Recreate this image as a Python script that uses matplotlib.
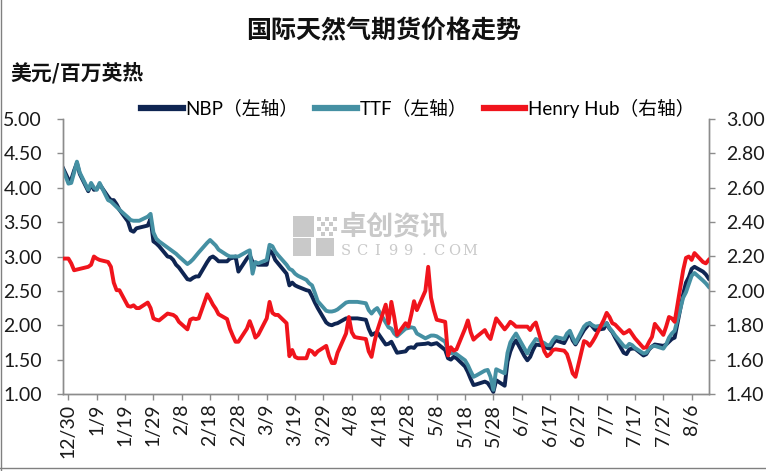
import matplotlib
matplotlib.use("Agg")
import matplotlib.pyplot as plt
from matplotlib.lines import Line2D
from matplotlib.patches import Rectangle
import pandas as pd

plt.rcParams['font.family'] = ['Lato', 'Noto Sans CJK SC', 'DejaVu Sans']

# ---------------- data ----------------
dates = pd.bdate_range("2019-12-27", "2020-08-12")

nbp = [4.38, 4.12, 4.12, 4.25, 4.36, 4.20,
       3.95, 4.05, 3.97, 3.98, 4.05,
       3.87, 3.82, 3.82, 3.76, 3.68,
       3.51, 3.38, 3.36, 3.41, 3.42,
       3.45, 3.55, 3.22, 3.19, 3.15,
       3.00, 2.99, 2.95, 2.88, 2.84,
       2.67, 2.66, 2.69, 2.71, 2.71,
       2.92, 2.98, 3.00, 2.97, 2.93,
       2.93, 2.97, 2.98, 3.00, 2.78,
       2.97, 3.02, 2.92, 2.90, 2.88,
       2.88, 3.09, 3.05, 2.95, 2.90,
       2.75, 2.58, 2.62, 2.58, 2.56,
       2.51, 2.50, 2.42, 2.33, 2.25,
       2.04, 2.01, 2.00, 2.02, 2.03,
       2.10, 2.10, 2.10, 2.10, 2.10,
       2.08, 1.95, 1.86, 1.88, 1.90,
       1.72, 1.73, 1.76, 1.68, 1.60,
       1.62, 1.67, 1.68, 1.67, 1.72,
       1.73, 1.74, 1.72, 1.73, 1.74,
       1.64, 1.52, 1.50, 1.54, 1.52,
       1.40, 1.32, 1.22, 1.13, 1.14,
       1.18, 1.16, 1.10, 1.03, 1.20,
       1.12, 1.47, 1.62, 1.72, 1.78,
       1.55, 1.49, 1.54, 1.64, 1.72,
       1.70, 1.67, 1.66, 1.73, 1.78,
       1.74, 1.82, 1.90, 1.78, 1.72,
       1.93, 1.98, 2.03, 1.98, 1.93,
       1.95, 2.03, 1.95, 1.90, 1.82,
       1.60, 1.58, 1.65, 1.66, 1.66,
       1.56, 1.58, 1.65, 1.69, 1.72,
       1.70, 1.72, 1.76, 1.80, 1.82,
       2.45, 2.62, 2.70, 2.82, 2.85,
       2.78, 2.74, 2.68]

ttf = [4.38, 4.06, 4.07, 4.22, 4.38, 4.22,
       3.97, 4.07, 4.00, 3.97, 4.07,
       3.82, 3.80, 3.76, 3.72, 3.68,
       3.57, 3.53, 3.52, 3.52, 3.52,
       3.58, 3.62, 3.35, 3.26, 3.22,
       3.13, 3.10, 3.07, 3.04, 3.00,
       2.89, 2.92, 2.96, 3.01, 3.06,
       3.20, 3.24, 3.20, 3.16, 3.10,
       3.02, 3.00, 3.00, 3.00, 3.00,
       3.07, 3.09, 2.75, 2.92, 2.90,
       2.95, 3.17, 3.15, 3.07, 3.02,
       2.88, 2.82, 2.80, 2.75, 2.72,
       2.66, 2.61, 2.58, 2.47, 2.35,
       2.21, 2.20, 2.20, 2.21, 2.23,
       2.33, 2.34, 2.34, 2.34, 2.34,
       2.32, 2.22, 2.17, 2.22, 2.25,
       2.04, 1.97, 1.95, 1.88, 1.84,
       1.95, 1.96, 1.97, 1.96, 1.88,
       1.81, 1.83, 1.85, 1.85, 1.84,
       1.76, 1.62, 1.59, 1.60, 1.58,
       1.49, 1.42, 1.33, 1.25, 1.27,
       1.34, 1.35, 1.25, 1.06, 1.36,
       1.30, 1.60, 1.75, 1.82, 1.88,
       1.66, 1.59, 1.68, 1.74, 1.80,
       1.74, 1.71, 1.71, 1.78, 1.83,
       1.80, 1.88, 1.92, 1.82, 1.74,
       1.98, 2.02, 2.03, 2.00, 1.98,
       2.00, 2.03, 1.96, 1.91, 1.85,
       1.70, 1.68, 1.73, 1.71, 1.67,
       1.59, 1.60, 1.66, 1.69, 1.70,
       1.66, 1.72, 1.82, 1.88, 1.92,
       2.40, 2.48, 2.60, 2.72, 2.76,
       2.65, 2.61, 2.56]

henry_hub = [2.188, 2.188, 2.160, 2.120, 2.124, 2.128,
             2.140, 2.152, 2.200, 2.188, 2.180,
             2.168, 2.140, 2.048, 2.004, 2.004,
             1.912, 1.908, 1.916, 1.900, 1.900,
             1.932, 1.900, 1.840, 1.832, 1.828,
             1.868, 1.864, 1.860, 1.848, 1.820,
             1.776, 1.832, 1.840, 1.836, 1.840,
             1.980, 1.952, 1.920, 1.896, 1.864,
             1.836, 1.780, 1.740, 1.704, 1.704,
             1.780, 1.824, 1.780, 1.728, 1.744,
             1.840, 1.936, 1.872, 1.860, 1.860,
             1.812, 1.620, 1.656, 1.616, 1.608,
             1.608, 1.656, 1.648, 1.628, 1.648,
             1.680, 1.620, 1.580, 1.580, 1.640,
             1.752, 1.848, 1.760, 1.732, 1.728,
             1.720, 1.648, 1.616, 1.700, 1.768,
             1.920, 1.812, 1.936, 1.848, 1.744,
             1.812, 1.792, 1.860, 1.940, 1.888,
             2.000, 2.140, 1.960, 1.888, 1.832,
             1.820, 1.624, 1.672, 1.652, 1.660,
             1.780, 1.828, 1.760, 1.716, 1.732,
             1.772, 1.740, 1.720, 1.780, 1.840,
             1.776, 1.796, 1.820, 1.808, 1.792,
             1.792, 1.792, 1.772, 1.800, 1.816,
             1.648, 1.620, 1.632, 1.656, 1.660,
             1.652, 1.632, 1.580, 1.520, 1.500,
             1.708, 1.700, 1.680, 1.704, 1.732,
             1.832, 1.872, 1.848, 1.812, 1.804,
             1.752, 1.760, 1.772, 1.748, 1.724,
             1.668, 1.672, 1.704, 1.732, 1.808,
             1.744, 1.792, 1.848, 1.840, 1.820,
             2.120, 2.192, 2.200, 2.180, 2.220,
             2.168, 2.160, 2.180]

tick_dates = pd.date_range("2019-12-30", "2020-08-06", freq="10D")
left_ticks = [1.00, 1.50, 2.00, 2.50, 3.00, 3.50, 4.00, 4.50, 5.00]
right_ticks = [1.40, 1.60, 1.80, 2.00, 2.20, 2.40, 2.60, 2.80, 3.00]

title = "国际天然气期货价格走势"
unit = "美元/百万英热"
labels = ["NBP（左轴）", "TTF（左轴）", "Henry Hub（右轴）"]
colors = ["#0f2552", "#4590a3", "#f0141c"]
watermark_cn = "卓创资讯"
watermark_en = "SCI99.COM"

# ---------------- figure ----------------
W, H = 766, 471
fig = plt.figure(figsize=(W / 100, H / 100), dpi=100)
fig.patch.set_facecolor("white")

# watermark (behind everything)
wm_c = "#c9c9c9"
fig.text(340 / W, 1 - 227 / H, watermark_cn, ha="left", va="center", fontsize=19.5,
         fontweight="bold", family=["Noto Sans CJK SC"], color=wm_c, zorder=0)
for i, ch in enumerate(watermark_en):
    fig.text((346 + i * 15.5) / W, 1 - 251 / H, ch, ha="center", va="center",
             fontsize=10.5, family=["DejaVu Serif"], color=wm_c, zorder=0)
for (px, py, s) in [(293, 216, 21), (293, 238, 18), (316, 238, 18)]:
    fig.patches.append(Rectangle((px / W, 1 - (py + s) / H), s / W, s / H,
                                 transform=fig.transFigure, facecolor=wm_c,
                                 edgecolor="none", zorder=0))
for (px, py) in [(317, 217), (325, 217), (333, 217), (321, 222), (329, 222),
                 (317, 227), (325, 227), (333, 227), (321, 232), (329, 232)]:
    fig.patches.append(Rectangle((px / W, 1 - (py + 4) / H), 4 / W, 4 / H,
                                 transform=fig.transFigure, facecolor=wm_c,
                                 edgecolor="none", zorder=0))

ax = fig.add_axes([63 / W, 1 - 394 / H, (709 - 63) / W, (394 - 119) / H])
ax2 = ax.twinx()
ax.set_facecolor("none")
ax2.set_facecolor("none")

lw = 2.8
ax.plot(dates, nbp, color=colors[0], lw=lw, solid_joinstyle="round", zorder=3)
ax.plot(dates, ttf, color=colors[1], lw=lw, solid_joinstyle="round", zorder=4)
ax2.plot(dates, henry_hub, color=colors[2], lw=lw, solid_joinstyle="round", zorder=5)

x0 = pd.Timestamp("2019-12-28 02:00")
x1 = pd.Timestamp("2020-08-12 03:00")
ax.set_xlim(x0, x1)
ax.set_ylim(1.0, 5.0)
ax2.set_ylim(1.4, 3.0)

ax.set_yticks(left_ticks)
ax.set_yticklabels([f"{v:.2f}" for v in left_ticks])
ax2.set_yticks(right_ticks)
ax2.set_yticklabels([f"{v:.2f}" for v in right_ticks])

ax.set_xticks(tick_dates)
ax.set_xticklabels([f"{d.month}/{d.day}" for d in tick_dates], rotation=90)

spine_c = "#8c8c8c"
for a in (ax, ax2):
    a.spines["top"].set_visible(False)
    for s in ("left", "right", "bottom"):
        a.spines[s].set_color(spine_c)
        a.spines[s].set_linewidth(1.0)
    a.tick_params(colors=spine_c, labelcolor="#1a1a1a", labelsize=14,
                  direction="out", length=4, width=1.0)
ax.tick_params(axis="x", pad=3)
ax.tick_params(axis="y", pad=11)
ax2.tick_params(axis="y", pad=8)

# title and unit
fig.text(384 / W, 1 - 31 / H, title, ha="center", va="center",
         fontsize=18, fontweight="bold", family=["Noto Sans CJK SC"], color="#111111")
fig.text(10 / W, 1 - 73 / H, unit, ha="left", va="center",
         fontsize=15, fontweight="bold", family=["Noto Sans CJK SC"], color="#111111")

# legend
handles = [Line2D([0], [0], color=c, lw=4.5) for c in colors]
fig.legend(handles, labels, loc="center", bbox_to_anchor=(418 / W, 1 - 108 / H),
           ncol=3, frameon=False, handlelength=2.2,
           handletextpad=0.15, columnspacing=0.9,
           prop={"family": ["Lato", "Noto Sans CJK SC"], "size": 13.5})

# outer border (left and bottom visible in the reference)
fig.add_artist(Line2D([0.5 / W, 0.5 / W], [0, 1], transform=fig.transFigure,
                      color="#808080", lw=1))
fig.add_artist(Line2D([0, 1], [1 - 468 / H, 1 - 468 / H], transform=fig.transFigure,
                      color="#808080", lw=1))

fig.savefig("out.png", dpi=100)
